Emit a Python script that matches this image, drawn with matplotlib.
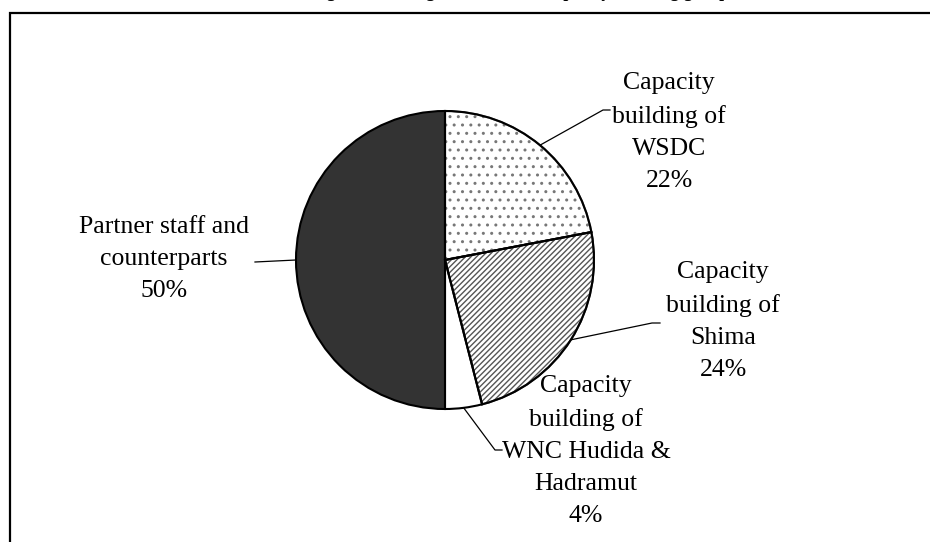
import numpy as np
import matplotlib.pyplot as plt
from matplotlib.patches import Rectangle, Wedge

plt.rcParams['font.family'] = ['Liberation Serif', 'DejaVu Serif']
plt.rcParams['hatch.linewidth'] = 1.0

# data
labels = ['Capacity\nbuilding of\nWSDC', 'Capacity\nbuilding of\nShima',
          'Capacity\nbuilding of\nWNC Hudida &\nHadramut', 'Partner staff and\ncounterparts']
shares = [22, 24, 4, 50]
faces = ['white', 'white', 'white', '#333333']
hatches = ['..', '//////', '', '']
hatch_cols = ['#777777', '#555555', 'black', 'black']

W, H = 930, 542
fig = plt.figure(figsize=(W / 100, H / 100), dpi=100)
ax = fig.add_axes([0, 0, 1, 1])

cx, cy, r = 445, H - 260, 149
wedges, _ = ax.pie(shares, startangle=90, counterclock=False, center=(cx, cy), radius=r,
                   frame=True, wedgeprops=dict(edgecolor='black', linewidth=1.5))
ax.set_xlim(0, W)
ax.set_ylim(0, H)
ax.set_aspect('auto')
ax.axis('off')
for w, fc, ht, hc in zip(wedges, faces, hatches, hatch_cols):
    w.set_facecolor(fc)
    if ht:
        w.set_hatch(ht)
        w.set_edgecolor(hc)
        # black outline over the hatched wedge
        ax.add_patch(Wedge((cx, cy), r, w.theta1, w.theta2,
                           facecolor='none', edgecolor='black', linewidth=1.5))

# label placement (pixel coords from top-left) and leader bends
text_pos = [(669, 132), (723, 321), (586, 451), (164, 259)]
bends = [[(603, 110), (610, 110)], [(652, 323), (660, 323)],
         [(495, 450), (502, 450)], [(255, 262)]]

cum = np.cumsum([0] + shares)
for i, (lab, s) in enumerate(zip(labels, shares)):
    mid = np.deg2rad(90 - (cum[i] + s / 2) / 100 * 360)
    sx, sy = cx + r * np.cos(mid), cy + r * np.sin(mid)
    pts = [(sx, sy)] + [(bx, H - by) for bx, by in bends[i]]
    xs, ys = zip(*pts)
    ax.plot(xs, ys, color='black', lw=0.9, zorder=1)
    tx, ty = text_pos[i]
    ax.text(tx, H - ty, f'{lab}\n{s}%', ha='center', va='center', fontsize=18.5,
            linespacing=1.6)

# title clipped by top of picture
fig.text(0.535, 1 + 3 / H, 'Percentage of the budget allocated to capacity building groups',
         ha='center', va='baseline', fontsize=13, fontweight='bold')

fig.add_artist(Rectangle((10 / W, -0.1), 1.2, (H - 13) / H + 0.1, transform=fig.transFigure,
                         facecolor='none', edgecolor='black', linewidth=1.6))

fig.savefig('out.png', dpi=100)
